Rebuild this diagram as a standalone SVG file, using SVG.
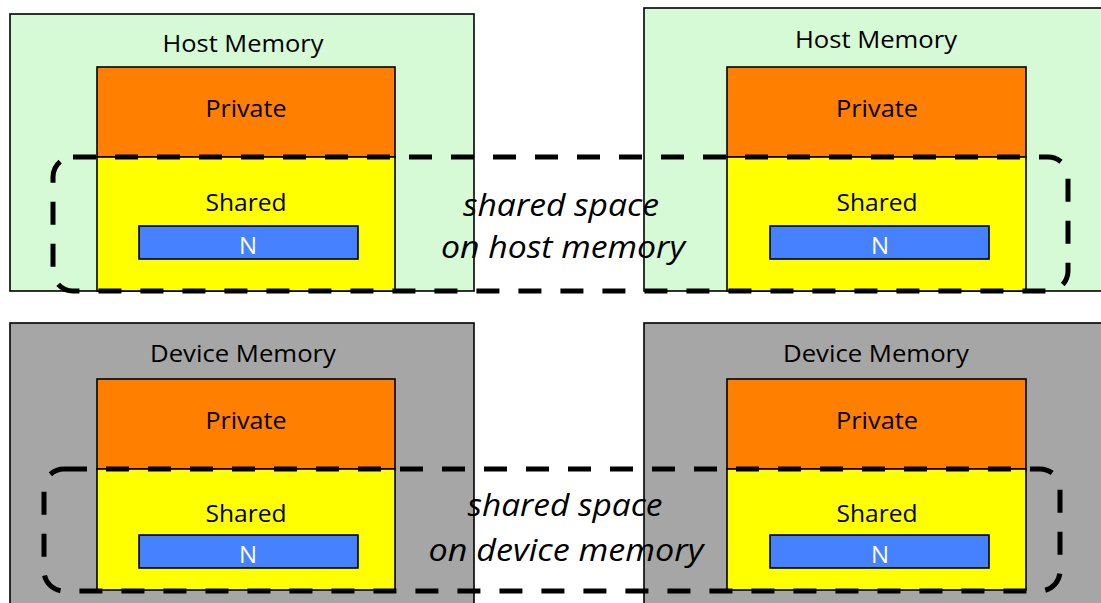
<svg xmlns="http://www.w3.org/2000/svg" width="1101" height="603" viewBox="0 0 1101 603">
<style>
.host{fill:#D5FAD5;stroke:#000;stroke-width:1.6}
.dev{fill:#A6A6A6;stroke:#000;stroke-width:1.6}
.priv{fill:#FF7F00;stroke:#000;stroke-width:1.6}
.shr{fill:#FFFF00;stroke:#000;stroke-width:1.6}
.nbox{fill:#4682FF;stroke:#000;stroke-width:1.6}
.lbl{font-family:"Open Sans","Liberation Sans",sans-serif;font-size:24.5px;fill:#000;text-anchor:middle}
.nlbl{font-family:"Open Sans","Liberation Sans",sans-serif;font-size:24px;fill:#fff;text-anchor:middle}
.ital{font-family:"Open Sans","Liberation Sans",sans-serif;font-size:31px;font-style:italic;fill:#000;text-anchor:middle}
.dash{fill:none;stroke:#000;stroke-width:5;stroke-dasharray:23 19}
</style>
<g id="host-left">
<rect class="host" x="10" y="14" width="464" height="277"/>
<text class="lbl" x="243" y="52" textLength="161" lengthAdjust="spacingAndGlyphs">Host Memory</text>
</g>
<g id="host-right">
<rect class="host" x="644" y="8" width="470" height="283"/>
<text class="lbl" x="876" y="48" textLength="162" lengthAdjust="spacingAndGlyphs">Host Memory</text>
</g>
<g id="dev-left">
<rect class="dev" x="10" y="323" width="464" height="290"/>
<text class="lbl" x="243" y="362" textLength="186" lengthAdjust="spacingAndGlyphs">Device Memory</text>
</g>
<g id="dev-right">
<rect class="dev" x="644" y="323" width="470" height="290"/>
<text class="lbl" x="876" y="362" textLength="186" lengthAdjust="spacingAndGlyphs">Device Memory</text>
</g>
<g id="private-host-left">
<rect class="priv" x="97" y="67" width="298" height="90"/>
<text class="lbl" x="246" y="117" textLength="81" lengthAdjust="spacingAndGlyphs">Private</text>
</g>
<g id="shared-host-left">
<rect class="shr" x="97" y="157" width="298" height="134"/>
<text class="lbl" x="246" y="211" textLength="81" lengthAdjust="spacingAndGlyphs">Shared</text>
</g>
<g id="n-host-left">
<rect class="nbox" x="139" y="226" width="219" height="33"/>
<text class="nlbl" x="248" y="254">N</text>
</g>
<g id="private-host-right">
<rect class="priv" x="727" y="67" width="299" height="90"/>
<text class="lbl" x="877" y="117" textLength="82" lengthAdjust="spacingAndGlyphs">Private</text>
</g>
<g id="shared-host-right">
<rect class="shr" x="727" y="157" width="299" height="134"/>
<text class="lbl" x="877" y="211" textLength="81" lengthAdjust="spacingAndGlyphs">Shared</text>
</g>
<g id="n-host-right">
<rect class="nbox" x="770" y="226" width="219" height="33"/>
<text class="nlbl" x="880" y="254">N</text>
</g>
<g id="private-dev-left">
<rect class="priv" x="97" y="379" width="298" height="90"/>
<text class="lbl" x="246" y="429" textLength="81" lengthAdjust="spacingAndGlyphs">Private</text>
</g>
<g id="shared-dev-left">
<rect class="shr" x="97" y="469" width="298" height="121"/>
<text class="lbl" x="246" y="522" textLength="81" lengthAdjust="spacingAndGlyphs">Shared</text>
</g>
<g id="n-dev-left">
<rect class="nbox" x="139" y="535" width="219" height="33"/>
<text class="nlbl" x="248" y="563">N</text>
</g>
<g id="private-dev-right">
<rect class="priv" x="727" y="379" width="299" height="90"/>
<text class="lbl" x="877" y="429" textLength="82" lengthAdjust="spacingAndGlyphs">Private</text>
</g>
<g id="shared-dev-right">
<rect class="shr" x="727" y="469" width="299" height="121"/>
<text class="lbl" x="877" y="522" textLength="81" lengthAdjust="spacingAndGlyphs">Shared</text>
</g>
<g id="n-dev-right">
<rect class="nbox" x="770" y="535" width="219" height="33"/>
<text class="nlbl" x="880" y="563">N</text>
</g>
<g id="shared-space-host">
<text class="ital" x="561" y="216" textLength="196" lengthAdjust="spacingAndGlyphs">shared space</text>
<text class="ital" x="563" y="258" textLength="244" lengthAdjust="spacingAndGlyphs">on host memory</text>
<rect class="dash" x="53" y="157" width="1015" height="134" rx="20" ry="20"/>
</g>
<g id="shared-space-device">
<text class="ital" x="565" y="516" textLength="195" lengthAdjust="spacingAndGlyphs">shared space</text>
<text class="ital" x="566" y="561" textLength="275" lengthAdjust="spacingAndGlyphs">on device memory</text>
<rect class="dash" x="44" y="469" width="1016" height="122" rx="20" ry="20"/>
</g>
</svg>
